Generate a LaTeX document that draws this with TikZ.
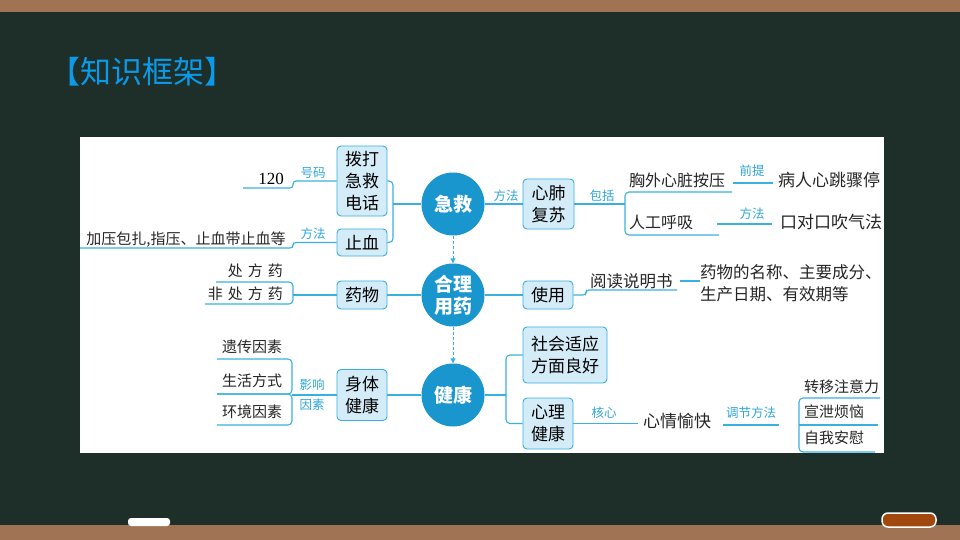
\documentclass[tikz,border=0pt]{standalone}
\usepackage{fontspec}
\setmainfont{Noto Sans CJK SC}
\newfontfamily\serifnum{Liberation Serif}
\usetikzlibrary{arrows.meta}
\definecolor{board}{HTML}{1E2E29}
\definecolor{wood}{HTML}{A07355}
\definecolor{lnc}{HTML}{3AB0E0}
\definecolor{lblc}{HTML}{2FA6DC}
\definecolor{boxfill}{HTML}{D4ECF8}
\definecolor{boxdraw}{HTML}{3AAEDF}
\definecolor{circc}{HTML}{1A96CF}
\definecolor{titleblue}{HTML}{0A9AE8}
\definecolor{chalkor}{HTML}{A0480E}
\begin{document}
\begin{tikzpicture}[x=1pt,y=-1pt,
  ln/.style={draw=lnc,line width=1.1pt},
  brk/.style={draw=lnc,line width=1.1pt,rounded corners=4pt},
  box/.style={draw=boxdraw,fill=boxfill,rounded corners=4pt,line width=0.9pt,inner sep=0pt,align=center,font=\fontsize{17}{22}\selectfont},
  hub/.style={circle,fill=circc,minimum size=63pt,inner sep=0pt,text=white,align=center,font=\fontsize{19}{22}\selectfont\bfseries},
  plain/.style={inner sep=0pt,text=black!85,font=\fontsize{16}{22}\selectfont,align=left},
  lbl/.style={inner sep=0pt,text=lblc,font=\fontsize{12.5}{20}\selectfont,align=center},
  dasharrow/.style={draw=lnc,line width=1pt,dash pattern=on 3pt off 2pt,-{Triangle[length=5pt,width=5pt]}}
]
\useasboundingbox (0,0) rectangle (960,540);
% board
\fill[board] (0,0) rectangle (960,540);
\fill[wood] (0,0) rectangle (960,12);
\fill[wood] (0,525) rectangle (960,540);
\fill[white,rounded corners=3pt] (128,518) rectangle (170,526);
\draw[white,line width=1.5pt,fill=chalkor,rounded corners=6pt] (882,513) rectangle (936,527);
\node[anchor=west,inner sep=0pt,text=titleblue,font=\fontsize{31}{32}\selectfont] (title) at (49,72) {【知识框架】};
% panel
\fill[white] (80,137) rectangle (884,453);

% hubs
\node[hub] (jj) at (453,204) {急救};
\node[hub] (hl) at (453,295) {合理\\用药};
\node[hub] (jk) at (453,395) {健康};
\draw[dasharrow] (jj.south) -- (hl.north);
\draw[dasharrow] (hl.south) -- (jk.north);

% boxes
\node[box,minimum width=50pt,minimum height=70pt] (bd) at (362,181) {拨打\\急救\\电话};
\node[box,minimum width=50pt,minimum height=27pt] (zx) at (362,242.5) {止血};
\node[box,minimum width=51pt,minimum height=50pt] (xf) at (548.5,204) {心肺\\复苏};
\node[box,minimum width=50pt,minimum height=28pt] (yw) at (362,295) {药物};
\node[box,minimum width=50pt,minimum height=28pt] (sy) at (548,295) {使用};
\node[box,minimum width=84pt,minimum height=56pt] (sh) at (565,355) {社会适应\\方面良好};
\node[box,minimum width=50pt,minimum height=51pt] (xl) at (548,423.5) {心理\\健康};
\node[box,minimum width=50pt,minimum height=51pt] (st) at (362,395) {身体\\健康};

% ---- 急救 left
\coordinate (jl) at (393,204);
\draw[ln] (jj.west) -- (jl);
\draw[brk] (bd.east) -- (393,181) -- (393,242.5) -- (zx.east);
\coordinate (e120) at (243,188);
\draw[brk,rounded corners=3pt] (bd.west) -- (293,181) -- (293,188) -- (e120);
\node[inner sep=0pt,font=\serifnum\fontsize{17}{20}\selectfont,anchor=base] (n120) at (271,185) {120};
\node[lbl] (lhm) at (313,173) {号码};
\coordinate (ezx) at (80,248);
\draw[brk,rounded corners=3pt] (zx.west) -- (293,242.5) -- (293,248) -- (ezx);
\node[plain,font=\fontsize{15}{20}\selectfont] (jy) at (186,240) {加压包扎,指压、止血带止血等};
\node[lbl] (lff1) at (313,234) {方法};

% ---- 急救 right
\draw[ln] (jj.east) -- (xf.west);
\node[lbl] (lff2) at (506,196) {方法};
\coordinate (xr) at (625,204);
\draw[ln] (xf.east) -- (xr);
\node[lbl] (lbk) at (602,196) {包括};
\coordinate (u1) at (732,192);
\coordinate (u2) at (719,235);
\draw[brk] (u1) -- (625,192) -- (625,235) -- (u2);
\node[plain,anchor=west] (xw) at (629,180) {胸外心脏按压};
\node[plain,anchor=west] (rg) at (629,222) {人工呼吸};
\coordinate (q1) at (733,183);
\coordinate (q2) at (773,183);
\draw[ln] (q1) -- (q2);
\node[lbl] (lqt) at (752,171) {前提};
\node[plain,anchor=west,font=\fontsize{17}{22}\selectfont] (br) at (778,180) {病人心跳骤停};
\coordinate (f1) at (717,224);
\coordinate (f2) at (772,224);
\draw[ln] (f1) -- (f2);
\node[lbl] (lff3) at (752,214) {方法};
\node[plain,anchor=west,font=\fontsize{17}{22}\selectfont] (kd) at (780,222) {口对口吹气法};

% ---- 合理用药
\draw[ln] (yw.east) -- (hl.west);
\coordinate (yl) at (293,295);
\draw[ln] (yw.west) -- (yl);
\draw[brk] (216,282) -- (293,282) -- (293,304) -- (205,304);
\node[plain,anchor=east,font=\fontsize{15}{20}\selectfont] (cf) at (283,271) {处\hspace{5pt}方\hspace{5pt}药};
\node[plain,anchor=east,font=\fontsize{15}{20}\selectfont] (fcf) at (283,294) {非\hspace{5pt}处\hspace{5pt}方\hspace{5pt}药};
\draw[ln] (hl.east) -- (sy.west);
\coordinate (ydr) at (677,290);
\draw[brk,rounded corners=3pt] (sy.east) -- (586,295) -- (586,290) -- (ydr);
\node[plain,anchor=west,font=\fontsize{16.5}{22}\selectfont] (yd) at (590,281) {阅读说明书};
\coordinate (m1) at (680,281);
\coordinate (m2) at (700,281);
\draw[ln] (m1) -- (m2);
\node[plain,anchor=west,font=\fontsize{16.5}{22}\selectfont] (yn) at (700,283) {药物的名称、主要成分、\\生产日期、有效期等};

% ---- 健康
\draw[ln] (st.east) -- (jk.west);
\coordinate (jr) at (506,395);
\draw[ln] (jk.east) -- (jr);
\draw[brk] (sh.west) -- (506,355) -- (506,423.5) -- (xl.west);
\coordinate (hx) at (638,423.5);
\draw[ln] (xl.east) -- (hx);
\node[lbl] (lhx) at (604,413) {核心};
\node[plain,anchor=west,font=\fontsize{17}{22}\selectfont] (xq) at (643,421) {心情愉快};
\coordinate (t1) at (723,425);
\coordinate (t2) at (779,425);
\draw[ln] (t1) -- (t2);
\node[lbl] (ltj) at (751,413) {调节方法};
\draw[brk] (880,398) -- (799,398) -- (799,452) -- (875,452);
\draw[ln] (799,425) -- (878,425);
\node[plain,anchor=west,font=\fontsize{15}{20}\selectfont] (zy) at (804,387) {转移注意力};
\node[plain,anchor=west,font=\fontsize{15}{20}\selectfont] (xx) at (804,412) {宣泄烦恼};
\node[plain,anchor=west,font=\fontsize{15}{20}\selectfont] (zw) at (804,438) {自我安慰};

\coordinate (sl) at (292,395);
\draw[ln] (st.west) -- (sl);
\draw[brk] (217,359) -- (292,359) -- (292,394) -- (217,394);
\draw[brk] (217,394) -- (292,394) -- (292,425) -- (217,425);
\node[plain,anchor=west,font=\fontsize{15}{20}\selectfont] (yc) at (222,347) {遗传因素};
\node[plain,anchor=west,font=\fontsize{15}{20}\selectfont] (sh2) at (222,381) {生活方式};
\node[plain,anchor=west,font=\fontsize{15}{20}\selectfont] (hj) at (222,412) {环境因素};
\node[lbl] (lyx) at (312,395) {影响\\因素};
\end{tikzpicture}
\end{document}
